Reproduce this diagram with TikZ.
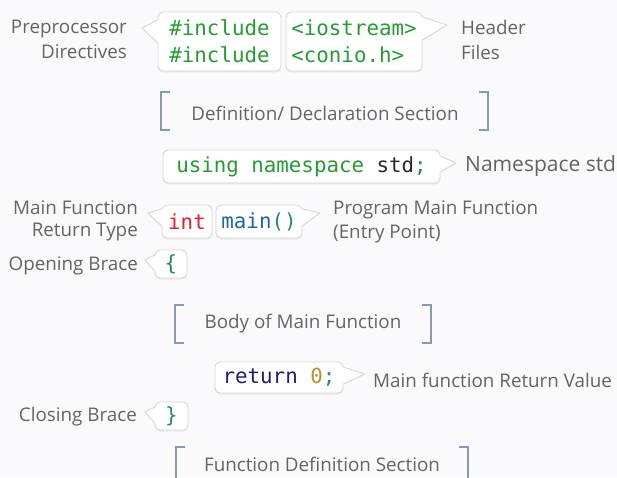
\documentclass[tikz,border=0pt]{standalone}
\usepackage{fontspec}
\setmainfont{Open Sans}
\newfontfamily\codefont{DejaVu Sans Mono}
\usetikzlibrary{calc,shadows}

\definecolor{pagebg}{RGB}{250,250,252}
\definecolor{boxedge}{RGB}{214,214,214}
\definecolor{notegray}{RGB}{100,100,100}
\definecolor{bracketblue}{RGB}{138,152,178}
\definecolor{codegreen}{RGB}{38,156,52}
\definecolor{codedark}{RGB}{40,40,40}
\definecolor{codeteal}{RGB}{38,140,100}
\definecolor{codered}{RGB}{232,30,42}
\definecolor{codeblue}{RGB}{30,100,172}
\definecolor{codenavy}{RGB}{28,30,112}
\definecolor{codegold}{RGB}{186,146,42}

\tikzset{
  codebox/.style={draw=boxedge, fill=white, line width=0.9pt, rounded corners=5pt,
    inner sep=0pt, align=left,
    font=\codefont\fontsize{20.8}{27}\selectfont,
    drop shadow={opacity=0.12, shadow xshift=0pt, shadow yshift=-1.5pt}},
  note/.style={text=notegray, inner sep=0pt, yshift=-2pt, font=\fontsize{18.8}{24}\selectfont},
  bigNote/.style={note, yshift=1pt, font=\fontsize{21}{25}\selectfont},
  bracket/.style={draw=bracketblue, line width=1.3pt},
  tailedge/.style={draw=boxedge, line width=0.9pt, line join=round},
}

% speech-bubble tail on the west / east side of a code box
% #1 box node, #2 upper y, #3 tip point, #4 lower y
\newcommand\tailwest[4]{%
  \coordinate (tw-a) at (0,#2); \coordinate (tw-b) at (0,#4);
  \fill[white] ($(#1.west |- tw-a)+(1.5,0)$) -- (#3) -- ($(#1.west |- tw-b)+(1.5,0)$) -- cycle;
  \draw[tailedge] (#1.west |- tw-a) -- (#3) -- (#1.west |- tw-b);}
\newcommand\taileast[4]{%
  \coordinate (te-a) at (0,#2); \coordinate (te-b) at (0,#4);
  \fill[white] ($(#1.east |- te-a)+(-1.5,0)$) -- (#3) -- ($(#1.east |- te-b)+(-1.5,0)$) -- cycle;
  \draw[tailedge] (#1.east |- te-a) -- (#3) -- (#1.east |- te-b);}
% square bracket pair around a section title
% #1 left x, #2 right x, #3 top y, #4 bottom y
\newcommand\sectionbrackets[4]{%
  \draw[bracket] (#1+9,#3) -- (#1,#3) -- (#1,#4) -- (#1+9,#4);
  \draw[bracket] (#2-9,#3) -- (#2,#3) -- (#2,#4) -- (#2-9,#4);}

\begin{document}
\begin{tikzpicture}[x=1pt, y=-1pt]
  \fill[pagebg] (0,0) rectangle (617,477);
  \useasboundingbox (0,0) rectangle (617,477);

  % --- preprocessor directives ---
  \node[codebox, minimum width=123pt, minimum height=59pt] (inc) at (219.5,41.5)
    {\color{codegreen}\#include\\\color{codegreen}\#include};
  \tailwest{inc}{20}{142,28}{43}
  \node[codebox, minimum width=136pt, minimum height=59pt] (hdr) at (354,41.5)
    {\color{codegreen}<iostream>\\\color{codegreen}<conio.h>};
  \taileast{hdr}{17}{447,25}{40}
  \node[note, anchor=east, align=right, font=\fontsize{18.8}{25}\selectfont] (pre) at (127,37.5)
    {Preprocessor\\Directives};
  \node[note, anchor=west, align=left, font=\fontsize{18.8}{25}\selectfont] (hfiles) at (461,37.5)
    {Header\\Files};

  % --- definition section ---
  \sectionbrackets{161}{488}{92}{130}
  \node[note] (defsec) at (325,111) {Definition/ Declaration Section};

  % --- namespace ---
  \node[codebox, minimum width=277pt, minimum height=33pt] (ns) at (301.5,166.5)
    {{\color{codegreen}using namespace} {\color{codedark}std}{\color{codeteal};}};
  \taileast{ns}{156}{456,163}{172}
  \node[bigNote, anchor=west] (nslbl) at (465,165) {Namespace std};

  % --- main function ---
  \node[codebox, minimum width=50pt, minimum height=33pt] (int) at (187,221.5)
    {\color{codered}int};
  \tailwest{int}{209}{148,213}{226}
  \node[codebox, minimum width=86pt, minimum height=33pt] (main) at (259,221.5)
    {{\color{codeblue}main}{\color{codeteal}()}};
  \taileast{main}{209}{320,213}{226}
  \node[note, anchor=east, align=right, font=\fontsize{18.8}{22}\selectfont] (rtype) at (138,219)
    {Main Function\\Return Type};
  \node[note, anchor=west, align=left, font=\fontsize{18.8}{24}\selectfont] (entry) at (333,220)
    {Program Main Function\\(Entry Point)};

  % --- opening brace ---
  \node[codebox, minimum width=32pt, minimum height=28pt] (open) at (171,264)
    {\color{codeteal}\{};
  \tailwest{open}{255}{145,260}{271}
  \node[note, anchor=east] (openlbl) at (138,264) {Opening Brace};

  % --- body ---
  \sectionbrackets{175}{431}{305}{343}
  \node[note] (body) at (303,322) {Body of Main Function};

  % --- return ---
  \node[codebox, minimum width=128pt, minimum height=31pt] (ret) at (279,377.5)
    {{\color{codenavy}return} {\color{codegold}0}{\color{codeteal};}};
  \taileast{ret}{367}{365,374}{384}
  \node[note, anchor=west] (retlbl) at (373,378) {Main function Return Value};

  % --- closing brace ---
  \node[codebox, minimum width=33pt, minimum height=28pt] (close) at (171.5,416)
    {\color{codeteal}\}};
  \tailwest{close}{407}{145,412}{423}
  \node[note, anchor=east] (closelbl) at (137,415) {Closing Brace};

  % --- function definitions ---
  \sectionbrackets{176}{468}{447}{490}
  \node[note] (fdef) at (322,462) {Function Definition Section};
\end{tikzpicture}
\end{document}
